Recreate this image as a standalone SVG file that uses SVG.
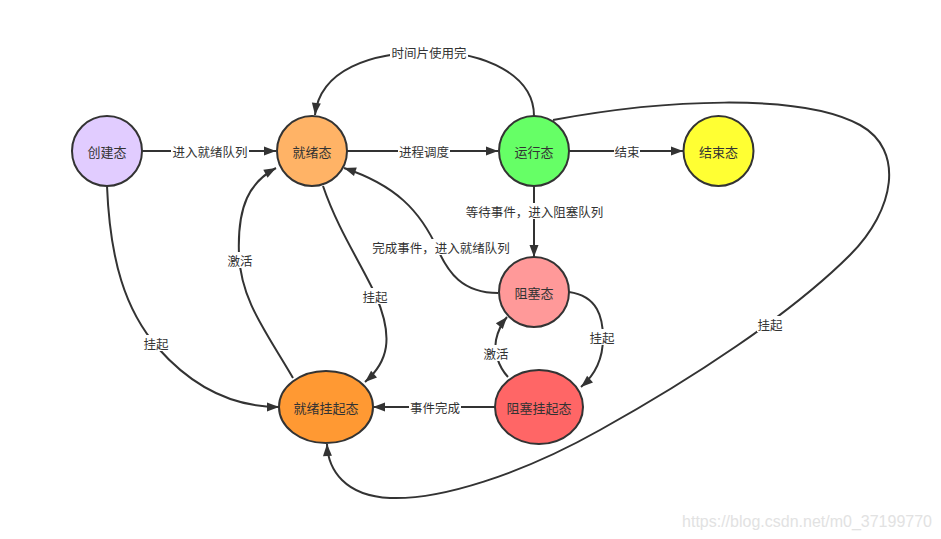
<svg xmlns="http://www.w3.org/2000/svg" width="941" height="539" viewBox="0 0 941 539">
<defs>
<marker id="arr" markerUnits="userSpaceOnUse" markerWidth="13" markerHeight="11" refX="12" refY="5" orient="auto" overflow="visible">
<path d="M0,0.5 L12,5 L0,9.5 Z" fill="#333"/>
</marker>
<style>
.node{stroke:#333;stroke-width:2}
.nt{font-family:"Noto Sans CJK SC","Microsoft YaHei",sans-serif;font-size:13px;fill:#333;text-anchor:middle;dominant-baseline:central}
.edge{fill:none;stroke:#333;stroke-width:2}
.lbg{fill:#fff}
.lt{font-family:"Noto Sans CJK SC","Microsoft YaHei",sans-serif;font-size:12.5px;fill:#333;text-anchor:middle;dominant-baseline:central}
</style>
</defs>
<rect width="941" height="539" fill="#fff"/>
<g id="connectors">
<path class="edge" d="M142,151 L276,151" marker-end="url(#arr)"/>
<path class="edge" d="M347,151 L498,151" marker-end="url(#arr)"/>
<path class="edge" d="M569,151 L683,151" marker-end="url(#arr)"/>
<path class="edge" d="M534,116 C534,75 485,52 430,52 C370,52 320,70 315,115" marker-end="url(#arr)"/>
<path class="edge" d="M534,186 L534,257" marker-end="url(#arr)"/>
<path class="edge" d="M498,293 C462,293 448,272 438,250 C420,210 395,185 344,168" marker-end="url(#arr)"/>
<path class="edge" d="M323,186 C338,230 362,265 376,296 C394,338 388,362 365,382" marker-end="url(#arr)"/>
<path class="edge" d="M293,378 C265,330 241,300 239,255 C237,205 250,182 276,168" marker-end="url(#arr)"/>
<path class="edge" d="M107,186 C110,260 125,310 158,348 C195,390 235,407 279,407" marker-end="url(#arr)"/>
<path class="edge" d="M569,292 C598,296 603,318 603,338 C603,358 596,374 581,387" marker-end="url(#arr)"/>
<path class="edge" d="M508,377 C498,366 494,352 496,340 C498,330 502,323 507,317" marker-end="url(#arr)"/>
<path class="edge" d="M495,407 L373,407" marker-end="url(#arr)"/>
<path class="edge" d="M553,120 C660,100 800,92 860,125 C905,150 895,210 850,255 C790,315 690,380 600,430 C520,475 440,500 390,498 C345,496 328,470 327,444" marker-end="url(#arr)"/>
</g>
<g id="edge-labels">
<rect class="lbg" x="171" y="143" width="78" height="16"/><text class="lt" x="210" y="151">进入就绪队列</text>
<rect class="lbg" x="398" y="143" width="52" height="16"/><text class="lt" x="424" y="151">进程调度</text>
<rect class="lbg" x="614" y="143" width="26" height="16"/><text class="lt" x="627" y="151">结束</text>
<rect class="lbg" x="390" y="44" width="78" height="16"/><text class="lt" x="429" y="52">时间片使用完</text>
<rect class="lbg" x="463" y="203" width="143" height="16"/><text class="lt" x="534.5" y="211">等待事件，进入阻塞队列</text>
<rect class="lbg" x="370" y="239" width="143" height="16"/><text class="lt" x="441" y="247">完成事件，进入就绪队列</text>
<rect class="lbg" x="362" y="288" width="26" height="16"/><text class="lt" x="375" y="296">挂起</text>
<rect class="lbg" x="227" y="252" width="26" height="16"/><text class="lt" x="240" y="260">激活</text>
<rect class="lbg" x="143" y="335" width="26" height="16"/><text class="lt" x="156" y="343">挂起</text>
<rect class="lbg" x="589" y="329" width="26" height="16"/><text class="lt" x="602" y="337">挂起</text>
<rect class="lbg" x="483" y="345" width="26" height="16"/><text class="lt" x="496" y="353">激活</text>
<rect class="lbg" x="409" y="399" width="52" height="16"/><text class="lt" x="435" y="407">事件完成</text>
<rect class="lbg" x="757" y="316" width="26" height="16"/><text class="lt" x="770" y="324">挂起</text>
</g>
<g id="node-create"><circle class="node" cx="107" cy="151" r="35" fill="#E1CCFF"/><text class="nt" x="107" y="151">创建态</text></g>
<g id="node-ready"><circle class="node" cx="312" cy="151" r="35" fill="#FFB366"/><text class="nt" x="312" y="151">就绪态</text></g>
<g id="node-running"><circle class="node" cx="534" cy="151" r="35" fill="#66FF66"/><text class="nt" x="534" y="151">运行态</text></g>
<g id="node-end"><circle class="node" cx="718.5" cy="151" r="35" fill="#FFFF33"/><text class="nt" x="718.5" y="151">结束态</text></g>
<g id="node-blocked"><circle class="node" cx="534" cy="292" r="35" fill="#FF9999"/><text class="nt" x="534" y="292">阻塞态</text></g>
<g id="node-blocked-suspend"><ellipse class="node" cx="539" cy="407" rx="44" ry="37" fill="#FF6666"/><text class="nt" x="539" y="407">阻塞挂起态</text></g>
<g id="node-ready-suspend"><ellipse class="node" cx="326" cy="407" rx="47" ry="36" fill="#FF9933"/><text class="nt" x="326" y="407">就绪挂起态</text></g>
<text x="932" y="521" text-anchor="end" dominant-baseline="central" font-family="Liberation Sans, Arial, sans-serif" font-size="16" fill="#e2e2e2">https://blog.csdn.net/m0_37199770</text>
</svg>
